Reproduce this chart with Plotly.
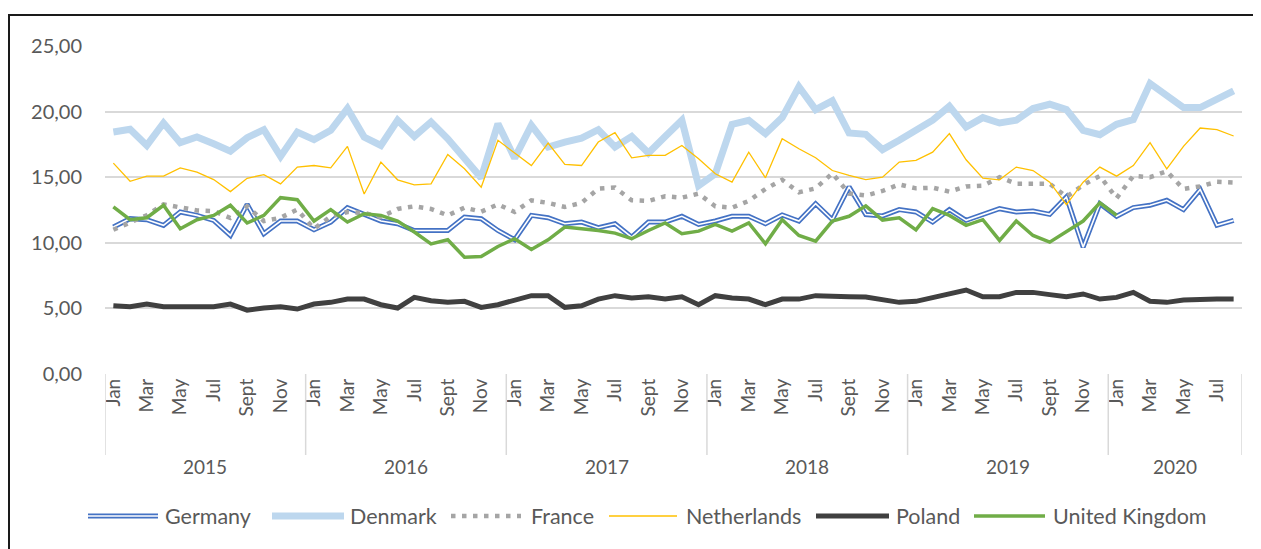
import plotly.graph_objects as go

years = ["2015", "2016", "2017", "2018", "2019", "2020"]
months = ["Jan", "Feb", "Mar", "Apr", "May", "Jun", "Jul", "Aug", "Sept", "Oct", "Nov", "Dec"]
months_per_year = [12, 12, 12, 12, 12, 8]

germany = [11.20, 11.84, 11.76, 11.33, 12.35, 12.09, 11.71, 10.56, 12.93, 10.69, 11.66, 11.66,
           10.99, 11.58, 12.68, 12.17, 11.66, 11.45, 10.94, 10.94, 10.94, 11.96, 11.84, 10.94,
           10.23, 12.09, 11.91, 11.45, 11.58, 11.15, 11.45, 10.43, 11.58, 11.58, 12.02, 11.40,
           11.66, 12.02, 12.02, 11.45, 12.12, 11.66, 12.98, 11.76, 14.26, 12.15, 12.05, 12.53,
           12.35, 11.58, 12.53, 11.71, 12.14, 12.60, 12.35, 12.42, 12.17, 13.49, 9.67, 12.98,
           12.02, 12.68, 12.86, 13.24, 12.53, 14.06, 11.33, 11.71]
denmark = [18.44, 18.65, 17.42, 19.13, 17.63, 18.06, 17.55, 16.99, 18.01, 18.62, 16.58, 18.44,
           17.86, 18.57, 20.23, 18.06, 17.42, 19.34, 18.11, 19.21, 17.93, 16.40, 14.95, 19.08,
           16.45, 18.95, 17.30, 17.68, 17.98, 18.62, 17.30, 18.11, 16.84, 18.11, 19.34, 14.36,
           15.26, 19.03, 19.34, 18.32, 19.54, 21.89, 20.15, 20.82, 18.37, 18.27, 17.10, 17.81,
           18.62, 19.34, 20.41, 18.83, 19.54, 19.13, 19.34, 20.23, 20.56, 20.15, 18.57, 18.24,
           19.03, 19.39, 22.14, 21.25, 20.31, 20.31, 21.00, 21.58]
france = [10.99, 11.53, 12.10, 12.93, 12.73, 12.47, 12.42, 11.89, 12.78, 11.66, 11.91, 12.53,
          11.07, 12.00, 12.35, 12.27, 11.96, 12.58, 12.78, 12.58, 12.09, 12.68, 12.37, 12.93,
          12.35, 13.24, 13.04, 12.73, 13.04, 14.13, 14.21, 13.24, 13.19, 13.55, 13.44, 13.75,
          12.78, 12.68, 13.19, 14.10, 14.80, 13.85, 14.15, 15.30, 13.75, 13.60, 13.95, 14.45,
          14.15, 14.20, 13.90, 14.30, 14.35, 15.00, 14.50, 14.50, 14.50, 13.50, 14.40, 15.10,
          13.40, 15.10, 15.00, 15.45, 14.10, 14.30, 14.65, 14.60]
netherlands = [16.07, 14.69, 15.08, 15.08, 15.71, 15.38, 14.82, 13.90, 14.92, 15.20, 14.49, 15.77,
               15.89, 15.71, 17.35, 13.72, 16.15, 14.80, 14.41, 14.49, 16.73, 15.64, 14.23, 17.81,
               16.84, 15.89, 17.60, 15.97, 15.89, 17.68, 18.39, 16.48, 16.66, 16.66, 17.42, 16.40,
               15.26, 14.62, 16.91, 14.95, 17.93, 17.17, 16.48, 15.51, 15.13, 14.82, 15.00, 16.15,
               16.28, 16.91, 18.32, 16.33, 14.92, 14.80, 15.77, 15.51, 14.62, 12.90, 14.62, 15.77,
               15.08, 15.89, 17.63, 15.64, 17.35, 18.75, 18.62, 18.14]
poland = [5.20, 5.13, 5.33, 5.13, 5.13, 5.13, 5.13, 5.33, 4.87, 5.03, 5.13, 4.95,
          5.33, 5.46, 5.71, 5.71, 5.28, 5.03, 5.84, 5.59, 5.46, 5.54, 5.08, 5.28,
          5.59, 5.97, 5.97, 5.08, 5.20, 5.71, 5.97, 5.79, 5.89, 5.71, 5.89, 5.28,
          5.97, 5.79, 5.71, 5.28, 5.71, 5.71, 5.97, 5.89, 5.89, 5.87, 5.68, 5.46,
          5.54, 5.84, 6.10, 6.40, 5.89, 5.89, 6.22, 6.22, 6.05, 5.89, 6.10, 5.71,
          5.84, 6.22, 5.54, 5.46, 5.64, 5.71, 5.71, 5.71]
united_kingdom = [12.73, 11.76, 11.91, 12.86, 11.07, 11.76, 12.09, 12.86, 11.51, 12.09, 13.44, 13.29,
                  11.66, 12.53, 11.58, 12.22, 12.09, 11.66, 10.82, 9.92, 10.23, 8.90, 8.95, 9.72,
                  10.31, 9.49, 10.23, 11.20, 11.07, 10.94, 10.74, 10.31, 10.94, 11.51, 10.69, 10.89,
                  11.40, 10.89, 11.51, 9.92, 11.76, 10.56, 10.13, 11.66, 12.02, 12.82, 11.73, 11.91,
                  10.99, 12.60, 12.09, 11.33, 11.76, 10.18, 11.66, 10.56, 10.05, 10.89, 11.66, 13.04,
                  12.09, None, None, None, None, None, None, None]

series_names = ["Germany", "Denmark", "France", "Netherlands", "Poland", "United Kingdom"]

# build month index and labels
x = []
month_labels = []
year_starts = []
idx = 0
for y, n in zip(years, months_per_year):
    year_starts.append(idx)
    for m in range(n):
        x.append(idx)
        month_labels.append(months[m])
        idx += 1
n_total = idx

FONT = "Lato"
TXT = "#595959"
GRID = "#d9d9d9"

# geometry (figure pixels; page has an 8px body margin)
W, H = 1253, 541
ML, MR, MT, MB = 97, 19, 38, 175
PW = W - ML - MR
PH = H - MT - MB


def px(page_x):
    return (page_x - 8 - ML) / PW


def py(page_y):
    return (H - MB - (page_y - 8)) / PH


styles = {
    "Germany": [dict(color="#4472C4", width=5), dict(color="white", width=1.6)],
    "Denmark": [dict(color="#BDD7EE", width=7)],
    "France": [dict(color="#A5A5A5", width=4.5, dash="4.5px,6.5px")],
    "Netherlands": [dict(color="#FFC000", width=1.3)],
    "Poland": [dict(color="#404040", width=5)],
    "United Kingdom": [dict(color="#70AD47", width=3.5)],
}
data = {"Germany": germany, "Denmark": denmark, "France": france,
        "Netherlands": netherlands, "Poland": poland, "United Kingdom": united_kingdom}

fig = go.Figure()
for name in series_names:
    for k, st in enumerate(styles[name]):
        fig.add_trace(go.Scatter(x=x, y=data[name], name=name, mode="lines", showlegend=False,
                                 hoverinfo="skip" if k else None, line=st))

tickvals = [i for i, lab in zip(x, month_labels) if lab in ("Jan", "Mar", "May", "Jul", "Sept", "Nov")]
ticktext = [month_labels[i] for i in tickvals]

shapes = []
# year separators
bounds = year_starts + [n_total]
for b in bounds:
    shapes.append(dict(type="line", xref="x", yref="paper", x0=b - 0.5, x1=b - 0.5,
                       y0=0, y1=py(455), line=dict(color=GRID, width=1.5)))
# chart border
shapes.append(dict(type="rect", xref="paper", yref="paper",
                   x0=px(9), x1=px(1275), y0=py(570), y1=py(15),
                   line=dict(color="#1a1a1a", width=2)))

annotations = []
for y, s, n in zip(years, year_starts, months_per_year):
    annotations.append(dict(x=s + (n - 1) / 2, xref="x", y=py(466), yref="paper",
                            text=y, showarrow=False, yanchor="middle",
                            font=dict(family=FONT, size=19, color=TXT)))

# custom legend (symbol start, symbol end, text start in page px)
legend_pos = {
    "Germany": (88, 158, 163),
    "Denmark": (272, 344, 348),
    "France": (451, 521, 529),
    "Netherlands": (609, 677, 684),
    "Poland": (816, 889, 894),
    "United Kingdom": (974, 1045, 1051),
}
ly = py(516)
for name in series_names:
    s0, s1, t0 = legend_pos[name]
    for st in styles[name]:
        shapes.append(dict(type="line", xref="paper", yref="paper", x0=px(s0), x1=px(s1),
                           y0=ly, y1=ly, line=st))
    annotations.append(dict(x=px(t0), xref="paper", y=ly, yref="paper", text=name,
                            showarrow=False, xanchor="left", yanchor="middle",
                            font=dict(family=FONT, size=21.5, color=TXT)))

fig.update_layout(
    width=W, height=H,
    margin=dict(l=ML, r=MR, t=MT, b=MB),
    paper_bgcolor="white", plot_bgcolor="white",
    separators=",.",
    font=dict(family=FONT, size=19, color=TXT),
    shapes=shapes, annotations=annotations,
    showlegend=False,
    xaxis=dict(range=[-0.5, n_total - 0.5], tickmode="array", tickvals=tickvals, ticktext=ticktext,
               tickangle=-90, showgrid=False, zeroline=False, showline=False, ticks="",
               tickfont=dict(family=FONT, size=19, color=TXT)),
    yaxis=dict(range=[0, 25], dtick=5, tickformat=".2f", showgrid=True, gridcolor=GRID,
               gridwidth=1.5, zeroline=False, showline=False, ticks="", ticklabelstandoff=22,
               tickfont=dict(family=FONT, size=20, color=TXT)),
)

fig.write_html("out.html")
